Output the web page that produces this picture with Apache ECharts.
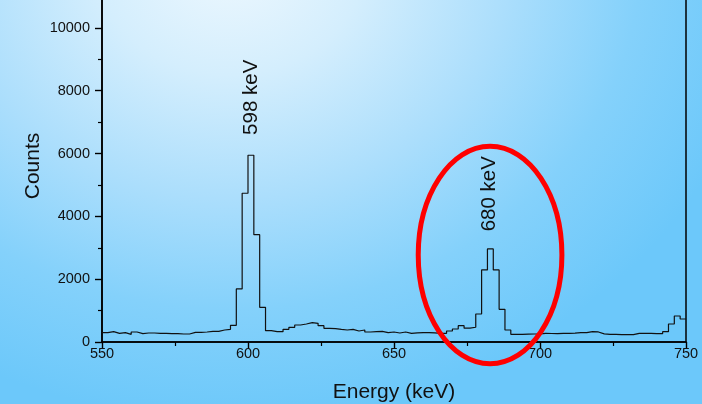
<!DOCTYPE html>
<html>
<head>
<meta charset="utf-8">
<script src="https://cdn.jsdelivr.net/npm/echarts@6/dist/echarts.min.js"></script>
<style>
  html, body { margin: 0; padding: 0; }
  #chart {
    width: 702px; height: 404px;
    background: radial-gradient(ellipse 540px 460px at 230px -40px, #eef8fe 0%, #d4eefd 25%, #abdefc 52%, #84d1fb 76%, #6cc8fa 100%);
  }
</style>
</head>
<body>
<div id="chart"></div>
<script>
// Histogram bin left edges (keV), bin width 2 keV
const binStart = 550;
const binWidth = 2;
const counts = [
  297, 329, 276, 297, 244, 318, 265, 287, 287, 276,   // 550-568
  276, 265, 265, 255, 255, 308, 308, 318, 340, 340,   // 570-588
  382, 403, 530, 1688, 4735, 5945, 3417, 1105, 361, 329, // 590-608
  329, 403, 467, 541, 573, 616, 594, 520, 435, 425,   // 610-628
  403, 382, 403, 350, 382, 318, 329, 340, 297, 318,   // 630-648
  287, 318, 276, 290, 297, 297, 290, 276, 276, 350,   // 650-668
  414, 520, 440, 470, 892, 2293, 2962, 2293, 1040, 382, // 670-688
  245, 245, 250, 255, 260, 276, 270, 265, 276, 276,   // 690-708
  285, 297, 297, 329, 320, 260, 244, 240, 234, 234,   // 710-728
  234, 276, 276, 276, 265, 265, 329, 573, 828, 732    // 730-748
];
const xTicks = { min: 550, max: 750, interval: 50 };
const yTicks = { min: 0, max: 12000, interval: 2000 };
const peakLabels = [
  { text: '598 keV', x: 601.3, y: 7790 },
  { text: '680 keV', x: 682.5, y: 4720 }
];
// highlight ellipse in data units: centre and semi-axes
const highlight = { cx: 682.9, cy: 2770, rx: 24.6, ry: 3460 };

// Build step data: each bin's left edge, plus the final right edge
const stepData = counts.map((v, i) => [binStart + i * binWidth, v]);
stepData.push([binStart + counts.length * binWidth, counts[counts.length - 1]]);

const font = 'Arial, "Liberation Sans", Helvetica, sans-serif';
const chart = echarts.init(document.getElementById('chart'), null, { renderer: 'canvas' });
chart.setOption({
  backgroundColor: 'transparent',
  animation: false,
  grid: {
    left: 102, right: 16, top: -35, bottom: 62,
    outerBoundsMode: 'none', containLabel: false,
    show: true, borderColor: '#000', borderWidth: 1.5, backgroundColor: 'transparent'
  },
  xAxis: {
    type: 'value', min: xTicks.min, max: xTicks.max, interval: xTicks.interval,
    name: 'Energy (keV)', nameLocation: 'middle', nameGap: 40,
    nameTextStyle: { fontFamily: font, fontSize: 21, color: '#111' },
    axisLine: { show: true, onZero: false, lineStyle: { color: '#000', width: 1.6 } },
    axisTick: { show: true, inside: false, length: 7, lineStyle: { color: '#000', width: 1.4 } },
    minorTick: { show: true, splitNumber: 2, length: 4, lineStyle: { color: '#000', width: 1.2 } },
    axisLabel: { margin: 4, fontFamily: font, fontSize: 14.5, color: '#111', formatter: v => String(v) },
    splitLine: { show: false }
  },
  yAxis: {
    type: 'value', min: yTicks.min, max: yTicks.max, interval: yTicks.interval,
    axisLine: { show: true, onZero: false, lineStyle: { color: '#000', width: 1.6 } },
    axisTick: { show: true, inside: false, length: 7, lineStyle: { color: '#000', width: 1.4 } },
    minorTick: { show: true, splitNumber: 2, length: 4, lineStyle: { color: '#000', width: 1.2 } },
    axisLabel: { margin: 12, fontFamily: font, fontSize: 14.5, color: '#111', showMaxLabel: false, formatter: v => String(v) },
    splitLine: { show: false }
  },
  series: [{
    type: 'line',
    step: 'end',
    data: stepData,
    symbol: 'none',
    lineStyle: { color: '#111', width: 1.2 },
    markPoint: {
      symbol: 'circle', symbolSize: 0,
      label: { show: true, position: 'inside', rotate: 90, fontFamily: font, fontSize: 20.5, color: '#111',
               formatter: p => p.name },
      data: peakLabels.map(p => ({ name: p.text, coord: [p.x, p.y] }))
    }
  }]
});

// red highlight ellipse, positioned through the chart's own scales
const c = chart.convertToPixel({ gridIndex: 0 }, [highlight.cx, highlight.cy]);
const e1 = chart.convertToPixel({ gridIndex: 0 }, [highlight.cx + highlight.rx, highlight.cy + highlight.ry]);
chart.setOption({
  graphic: [{
    type: 'ellipse', z: 100,
    shape: { cx: c[0], cy: c[1], rx: Math.abs(e1[0] - c[0]), ry: Math.abs(c[1] - e1[1]) },
    style: { fill: 'none', stroke: '#f00', lineWidth: 5 }
  }, {
    type: 'text', x: 33, y: 166, rotation: Math.PI / 2,
    style: { text: 'Counts', fontFamily: font, fontSize: 21, fill: '#111', align: 'center', verticalAlign: 'middle' }
  }]
});
</script>
</body>
</html>
